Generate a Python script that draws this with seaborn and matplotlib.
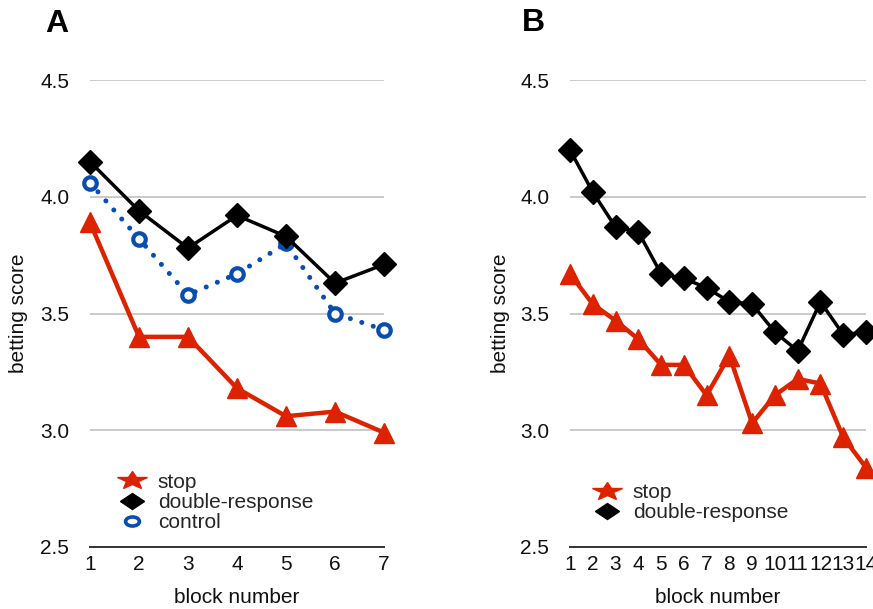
import matplotlib
matplotlib.use("Agg")
import matplotlib.pyplot as plt
import seaborn as sns
import pandas as pd
from matplotlib.lines import Line2D
from matplotlib.markers import MarkerStyle
from matplotlib.transforms import Affine2D

# ---------------- data ----------------
blocks_a = [1, 2, 3, 4, 5, 6, 7]
stop_a = [3.89, 3.40, 3.40, 3.18, 3.06, 3.08, 2.99]
double_a = [4.15, 3.94, 3.78, 3.92, 3.83, 3.63, 3.71]
control_a = [4.06, 3.82, 3.58, 3.67, 3.80, 3.50, 3.43]

blocks_b = [1, 2, 3, 4, 5, 6, 7, 8, 9, 10, 11, 12, 13, 14]
stop_b = [3.67, 3.54, 3.47, 3.39, 3.28, 3.28, 3.15, 3.32, 3.03, 3.15, 3.22, 3.20, 2.97, 2.84]
double_b = [4.20, 4.02, 3.87, 3.85, 3.67, 3.65, 3.61, 3.55, 3.54, 3.42, 3.34, 3.55, 3.41, 3.42]

y_ticks = [2.5, 3.0, 3.5, 4.0, 4.5]
y_tick_labels = ["2.5", "3.0", "3.5", "4.0", "4.5"]
series_labels = ["stop", "double-response", "control"]
panel_titles = ["A", "B"]

RED = "#dd2200"
BLUE = "#0a4db0"
BLACK = "#000000"

sns.set_theme(style="white")
plt.rcParams["font.family"] = ["Liberation Sans", "DejaVu Sans"]

W, H = 873, 609
fig = plt.figure(figsize=(W / 100, H / 100), dpi=100)
axA = fig.add_axes([90 / W, 1 - 547 / H, 294 / W, 467 / H])
axB = fig.add_axes([570 / W, 1 - 547 / H, 296 / W, 467 / H])

FS = 15


def style_axis(ax, blocks, ylabel_x):
    ax.set_xlim(blocks[0], blocks[-1])
    ax.set_ylim(2.5, 4.5)
    ax.set_xticks(blocks)
    ax.set_xticklabels([str(b) for b in blocks])
    ax.set_yticks(y_ticks)
    ax.set_yticklabels(y_tick_labels)
    ax.yaxis.grid(True, color="#c6c6c6", lw=1.3)
    ax.xaxis.grid(False)
    ax.set_axisbelow(True)
    for s in ["top", "left", "right"]:
        ax.spines[s].set_visible(False)
    ax.spines["bottom"].set_color("#333333")
    ax.spines["bottom"].set_linewidth(1.4)
    ax.tick_params(axis="y", length=0, labelsize=FS, pad=15, colors="#111111")
    ax.tick_params(axis="x", length=0, labelsize=FS, pad=6, colors="#111111")
    ax.set_xlabel("block number", fontsize=FS, color="#111111")
    ax.set_ylabel("betting score", fontsize=FS, color="#111111")
    ax.xaxis.set_label_coords(0.5, -0.109)
    ax.xaxis.label.set_verticalalignment("center")
    ax.yaxis.set_label_coords(ylabel_x, 0.5)
    ax.yaxis.label.set_verticalalignment("center")
    ax.set_facecolor("white")


# ---------------- panel A ----------------
sns.lineplot(x=blocks_a, y=control_a, ax=axA, color=BLUE, lw=3.6,
             linestyle=(0, (0.01, 2.4)), dash_capstyle="round",
             marker="o", markersize=9, markerfacecolor="white",
             markeredgecolor=BLUE, markeredgewidth=3.0, clip_on=False,
             zorder=3)
sns.lineplot(x=blocks_a, y=stop_a, ax=axA, color=RED, lw=3.2,
             marker="^", markersize=14, markeredgecolor=RED,
             markeredgewidth=1, clip_on=False, zorder=4)
sns.lineplot(x=blocks_a, y=double_a, ax=axA, color=BLACK, lw=2.5,
             marker="D", markersize=12, markeredgecolor=BLACK,
             markeredgewidth=1, clip_on=False, zorder=5)

# ---------------- panel B ----------------
sns.lineplot(x=blocks_b, y=stop_b, ax=axB, color=RED, lw=3.2,
             marker="^", markersize=14, markeredgecolor=RED,
             markeredgewidth=1, clip_on=False, zorder=4)
sns.lineplot(x=blocks_b, y=double_b, ax=axB, color=BLACK, lw=2.5,
             marker="D", markersize=12, markeredgecolor=BLACK,
             markeredgewidth=1, clip_on=False, zorder=5)

style_axis(axA, blocks_a, (19 - 90) / 294)
style_axis(axB, blocks_b, (500 - 570) / 296)

# ---------------- legends ----------------
star_m = MarkerStyle("*", transform=Affine2D().scale(1.35, 0.8))
diam_m = MarkerStyle("D", transform=Affine2D().scale(1.2, 0.85))
circ_m = MarkerStyle("o", transform=Affine2D().scale(1.0, 0.65))

h_stop = Line2D([], [], linestyle="none", marker=star_m, markersize=17,
                color=RED, markeredgecolor=RED)
h_double = Line2D([], [], linestyle="none", marker=diam_m, markersize=10,
                  color=BLACK)
h_control = Line2D([], [], linestyle="none", marker=circ_m, markersize=10,
                   markerfacecolor="white", markeredgecolor=BLUE,
                   markeredgewidth=2.6)

leg_kw = dict(loc="center left", frameon=False, fontsize=FS,
              handlelength=1.0, handletextpad=0.72, borderpad=0,
              borderaxespad=0, labelspacing=0.06,
              bbox_transform=fig.transFigure)
axA.legend([h_stop, h_double, h_control], series_labels,
           bbox_to_anchor=(122 / W, 1 - 502.5 / H), **leg_kw)
axB.legend([h_stop, h_double], series_labels[:2],
           bbox_to_anchor=(597 / W, 1 - 502.5 / H), **leg_kw)

# ---------------- panel letters ----------------
fig.text(45 / W, 1 - 24 / H, panel_titles[0], fontsize=23, fontweight="bold",
         ha="left", va="center", color="black")
fig.text(522 / W, 1 - 23 / H, panel_titles[1], fontsize=23, fontweight="bold",
         ha="left", va="center", color="black")

fig.savefig("out.png", dpi=100, facecolor="white")
